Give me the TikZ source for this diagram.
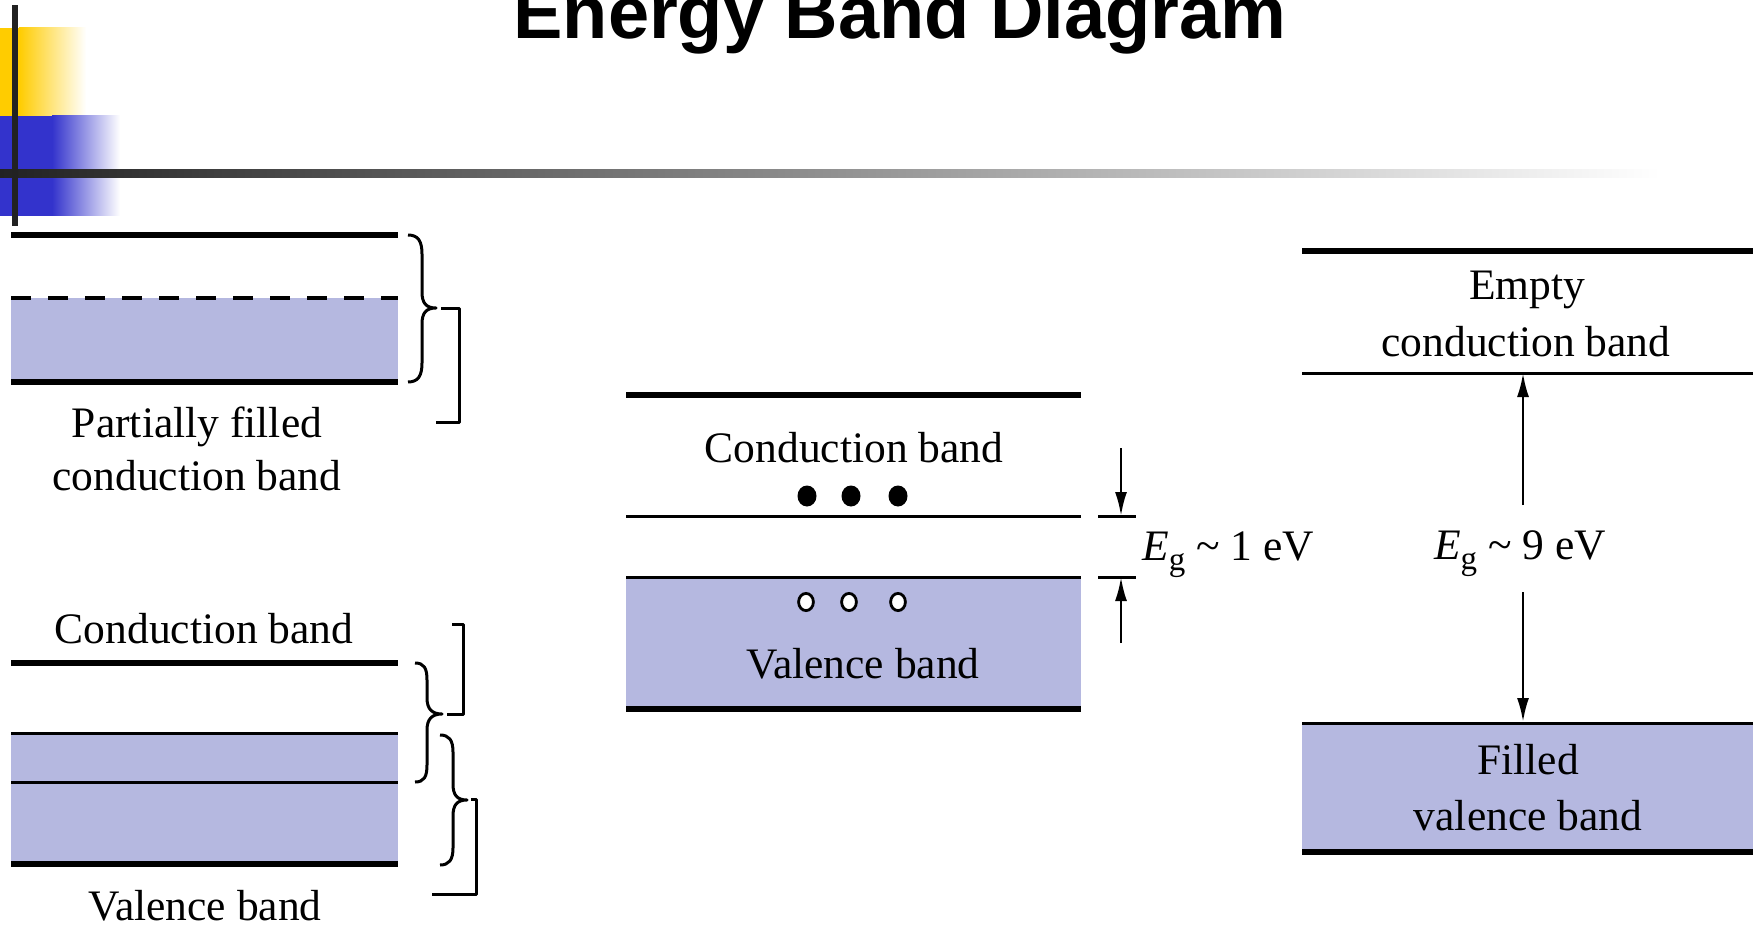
\documentclass[tikz,border=0pt]{standalone}
\usepackage{fontspec}
\setmainfont{Liberation Serif}
\newfontfamily\titlefont{Liberation Sans}
\usetikzlibrary{arrows.meta}
\definecolor{bandfill}{HTML}{B5B8E0}
\definecolor{hdyellow}{HTML}{FFCC00}
\definecolor{hdblue}{HTML}{3333CC}
\definecolor{hdbar}{HTML}{222222}
\definecolor{hdmid}{HTML}{B8B8B8}
\newcommand{\egsub}{\textit{E}\raisebox{-10pt}{\fontsize{33}{33}\selectfont g}}
\begin{document}
\begin{tikzpicture}[x=1pt,y=-1pt,
  thickband/.style={line width=6pt},
  thinband/.style={line width=3pt},
  lbl/.style={font=\fontsize{43.5}{50}\selectfont, inner sep=0pt, anchor=base},
  bracestyle/.style={line width=3pt, line join=round},
  arr/.style={line width=2.6pt, -{Latex[length=24pt,width=12pt]}},
  holedot/.style={line width=2.8pt, fill=white}]
\useasboundingbox (0,0) rectangle (1753,925);

% ---------- header ----------
\fill[hdyellow] (0,28) rectangle (19,116);
\shade[left color=hdyellow, right color=white] (19,28) rectangle (86,116);
\fill[hdblue] (0,116) rectangle (52,216);
\shade[left color=hdblue, right color=white] (52,116) rectangle (120,216);
\shade[left color=hdbar, middle color=hdmid, right color=white] (0,170) rectangle (1660,178);
\fill[hdbar] (11.5,5) rectangle (18,226);
\node[font=\titlefont\bfseries\fontsize{74}{80}\selectfont, anchor=base, inner sep=0pt] (title) at (900,39) {Energy Band Diagram};

% ---------- left top: metal, partially filled ----------
\fill[bandfill] (11,298) rectangle (398,382);
\draw[thickband] (11,235) -- (398,235);
\draw[line width=4pt, dash pattern=on 20pt off 17pt] (11,298) -- (398,298);
\draw[thickband] (11,382) -- (398,382);
\draw[bracestyle] (408,235) .. controls (418,235) and (422,241) .. (422,254)
  -- (422,292) .. controls (422,303) and (426,308) .. (436,308)
  .. controls (426,308) and (422,313) .. (422,324)
  -- (422,363) .. controls (422,376) and (418,382) .. (408,382);
\draw[bracestyle] (441,308) -- (459,308) -- (459,422) -- (436,422);
\node[lbl] (pf1) at (197,437) {Partially filled};
\node[lbl] (pf2) at (197,490) {conduction band};

% ---------- left bottom: overlapping bands ----------
\fill[bandfill] (11,733) rectangle (398,864);
\draw[thickband] (11,663) -- (398,663);
\draw[thinband] (11,733) -- (398,733);
\draw[thinband] (11,782) -- (398,782);
\draw[thickband] (11,864) -- (398,864);
\draw[bracestyle] (415,663) .. controls (424,663) and (427,668) .. (427,680)
  -- (427,698) .. controls (427,709) and (432,714) .. (442,714)
  .. controls (432,714) and (427,719) .. (427,730)
  -- (427,765) .. controls (427,777) and (424,782) .. (415,782);
\draw[bracestyle] (452,624) -- (463,624) -- (463,714) -- (447,714);
\draw[bracestyle] (440,735) .. controls (449,735) and (453,740) .. (453,752)
  -- (453,784) .. controls (453,795) and (457,800) .. (467,800)
  .. controls (457,800) and (453,805) .. (453,816)
  -- (453,848) .. controls (453,860) and (449,865) .. (440,865);
\draw[bracestyle] (471,799) -- (476,799) -- (476,894) -- (432,894);
\node[lbl] (cb1) at (204,643) {Conduction band};
\node[lbl] (vb1) at (205,920) {Valence band};

% ---------- middle: semiconductor ----------
\fill[bandfill] (626,577) rectangle (1081,709);
\draw[thickband] (626,395) -- (1081,395);
\draw[thinband] (626,516) -- (1081,516);
\draw[thinband] (626,577) -- (1081,577);
\draw[thickband] (626,709) -- (1081,709);
\node[lbl] (cb2) at (854,462) {Conduction band};
\node[lbl] (vb2) at (863,678) {Valence band};
\fill (807,496) ellipse [x radius=9.5pt, y radius=10.5pt];
\fill (851,496) ellipse [x radius=9.5pt, y radius=10.5pt];
\fill (898,496) ellipse [x radius=9.5pt, y radius=10.5pt];
\draw[holedot] (806,602) ellipse [x radius=7.4pt, y radius=8.6pt];
\draw[holedot] (849,602) ellipse [x radius=7.4pt, y radius=8.6pt];
\draw[holedot] (898,602) ellipse [x radius=7.4pt, y radius=8.6pt];
\coordinate (t1a) at (1098,516);
\coordinate (t1b) at (1136,516);
\coordinate (t2a) at (1098,577);
\coordinate (t2b) at (1136,577);
\coordinate (a1s) at (1121,448);
\coordinate (a1e) at (1121,516);
\coordinate (a2s) at (1121,643);
\coordinate (a2e) at (1121,577);
\draw[thinband] (t1a) -- (t1b);
\draw[thinband] (t2a) -- (t2b);
\draw[arr] (a1s) -- (a1e);
\draw[arr] (a2s) -- (a2e);
\node[lbl, anchor=base west] (eg1) at (1142,560) {\egsub\ \textasciitilde\ 1 eV};

% ---------- right: insulator ----------
\fill[bandfill] (1302,723) rectangle (1753,852);
\draw[thickband] (1302,251) -- (1753,251);
\draw[thinband] (1302,373) -- (1753,373);
\draw[thinband] (1302,723) -- (1753,723);
\draw[thickband] (1302,852) -- (1753,852);
\node[lbl] (em1) at (1527,300) {Empty};
\node[lbl] (em2) at (1526,356) {conduction band};
\node[lbl] (fv1) at (1528,774) {Filled};
\node[lbl] (fv2) at (1528,830) {valence band};
\node[lbl] (eg2) at (1520,559) {\egsub\ \textasciitilde\ 9 eV};
\coordinate (a3s) at (1523,505);
\coordinate (a3e) at (1523,373);
\coordinate (a4s) at (1523,592);
\coordinate (a4e) at (1523,722);
\draw[arr] (a3s) -- (a3e);
\draw[arr] (a4s) -- (a4e);
\end{tikzpicture}
\end{document}
